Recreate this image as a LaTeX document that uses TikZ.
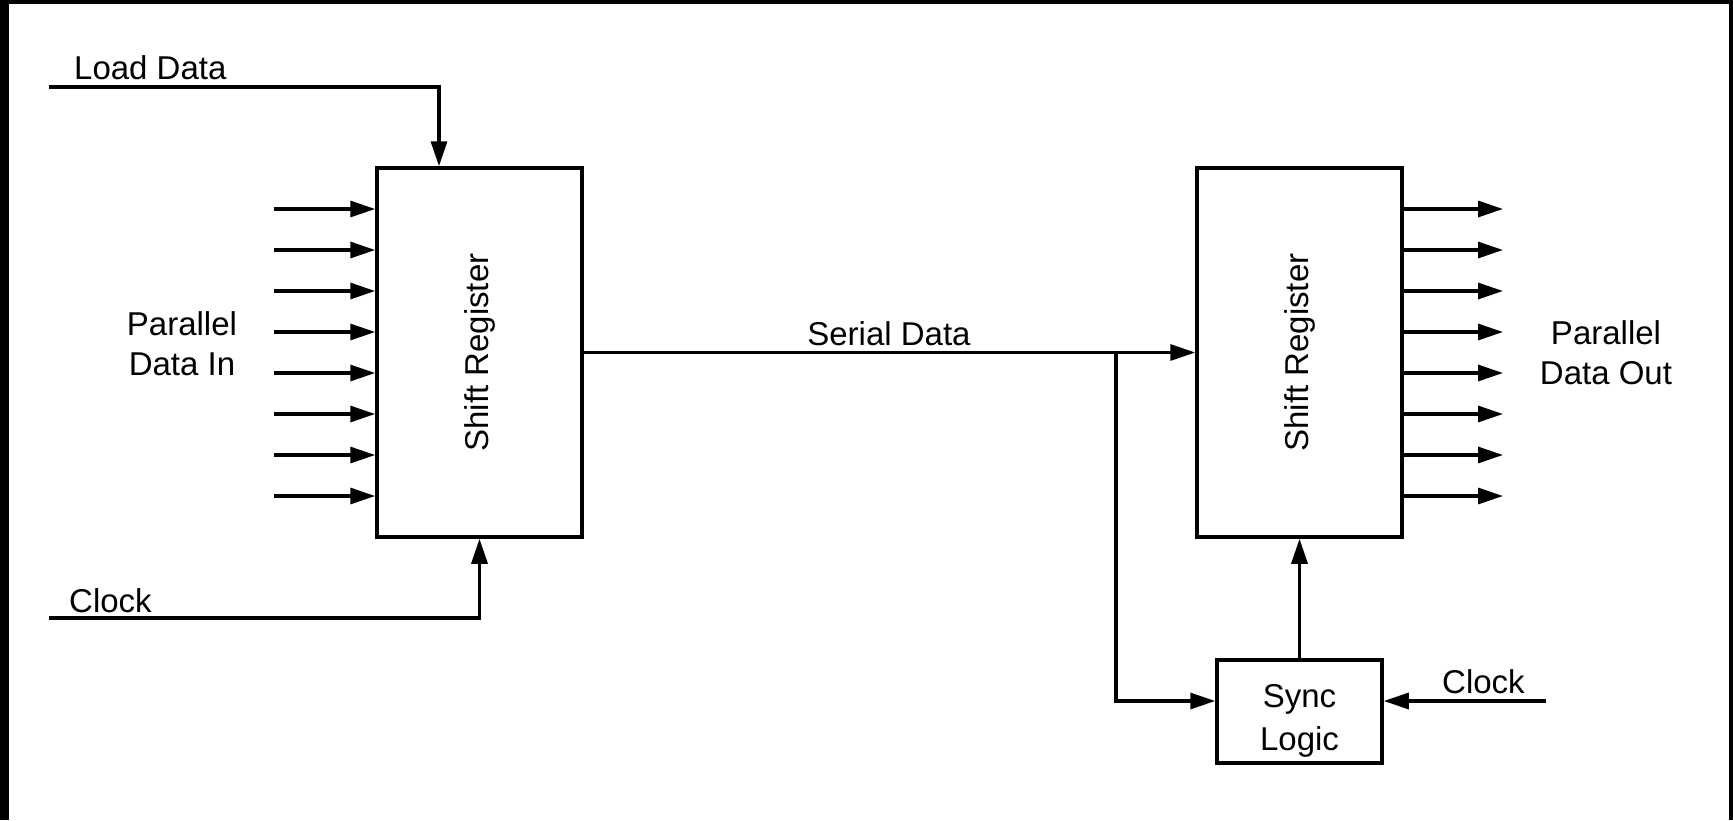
\documentclass[tikz,border=0pt]{standalone}
\usepackage{fontspec}
\setmainfont{Liberation Sans}
\usetikzlibrary{arrows.meta}

\begin{document}
\begin{tikzpicture}[x=1pt, y=-1pt,
  wire/.style={line width=3.2pt},
  arr/.style={wire, -{Triangle[length=25pt,width=16pt]}},
  blk/.style={draw, line width=3.5pt, rectangle, inner sep=0pt},
  lbl/.style={inner sep=0pt, font=\fontsize{33}{40}\selectfont}
]
% canvas and frame
\useasboundingbox (0,0) rectangle (1733,820);
\fill[white] (0,0) rectangle (1733,820);
\fill[black] (0,0) rectangle (9,820);
\fill[black] (0,0) rectangle (1733,4);
\fill[black] (1729,0) rectangle (1733,820);

% blocks
\node[blk, minimum width=205pt, minimum height=369pt] (srA) at (479.5,352.5) {};
\node[blk, minimum width=205pt, minimum height=369pt] (srB) at (1299.5,352.5) {};
\node[lbl, rotate=90] (srAtxt) at (srA.center) {Shift Register};
\node[lbl, rotate=90] (srBtxt) at (srB.center) {Shift Register};
\node[blk, minimum width=165pt, minimum height=103pt] (sync) at (1299.5,711.5) {};
\node[lbl, align=center, font=\fontsize{33}{43}\selectfont]
  (syncTxt) at ([yshift=-9pt]sync.center) {Sync\\Logic};

% parallel inputs and outputs
\foreach \i in {0,...,7} {
  \coordinate (in\i) at (274,{209+41*\i});
  \draw[arr] (in\i) -- (in\i -| srA.west);
  \coordinate (out\i) at (1503,{209+41*\i});
  \draw[arr] (out\i -| srB.east) -- (out\i);
}

% load data and clock into the transmitting register
\coordinate (ld) at (49,87);
\draw[arr] (ld) -| ([xshift=-40.5pt]srA.north);
\coordinate (clkA) at (49,618);
\draw[arr] (clkA) -| (srA.south);

% serial link and synchronisation
\draw[arr] (srA.east) -- (srB.west);
\coordinate (j) at (1116,352.5);
\coordinate (jb) at (1116,701);
\draw[arr] (j) -- (jb) -- (jb -| sync.west);
\coordinate (clkB) at (1546,701);
\draw[arr] (clkB) -- (clkB -| sync.east);
\draw[arr] (sync.north) -- (srB.south);

% labels
\node[lbl, anchor=base west] (tLoad) at (74,79) {Load Data};
\node[lbl, anchor=base west] (tClkA) at (69,612) {Clock};
\node[lbl, anchor=base] (tSerial) at (889,345) {Serial Data};
\node[lbl, anchor=base] (tPin1) at (182,335) {Parallel};
\node[lbl, anchor=base] (tPin2) at (182,375) {Data In};
\node[lbl, anchor=base] (tPout1) at (1606,344) {Parallel};
\node[lbl, anchor=base] (tPout2) at (1606,384) {Data Out};
\node[lbl, anchor=base west] (tClkB) at (1442,693) {Clock};
\end{tikzpicture}
\end{document}
